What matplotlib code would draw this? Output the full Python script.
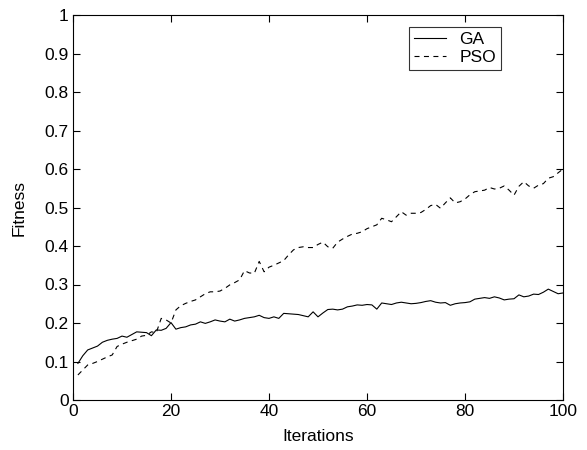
import matplotlib
matplotlib.use("Agg")
import matplotlib.pyplot as plt
from matplotlib.ticker import FuncFormatter

iterations = list(range(1, 101))
ga = [0.095, 0.115, 0.130, 0.135, 0.140, 0.150, 0.155, 0.158, 0.160, 0.166,
      0.163, 0.170, 0.177, 0.176, 0.175, 0.167, 0.182, 0.181, 0.186, 0.201,
      0.184, 0.188, 0.190, 0.195, 0.197, 0.203, 0.199, 0.203, 0.208, 0.205,
      0.203, 0.210, 0.205, 0.208, 0.212, 0.214, 0.216, 0.220, 0.214, 0.212,
      0.216, 0.212, 0.225, 0.224, 0.223, 0.222, 0.219, 0.216, 0.229, 0.216,
      0.226, 0.235, 0.236, 0.234, 0.236, 0.242, 0.244, 0.247, 0.246, 0.248,
      0.247, 0.236, 0.252, 0.250, 0.248, 0.252, 0.254, 0.252, 0.250, 0.251,
      0.253, 0.256, 0.258, 0.254, 0.252, 0.253, 0.246, 0.250, 0.252, 0.253,
      0.255, 0.262, 0.264, 0.266, 0.264, 0.268, 0.265, 0.260, 0.262, 0.263,
      0.273, 0.268, 0.270, 0.275, 0.274, 0.280, 0.288, 0.282, 0.276, 0.278]
pso = [0.065, 0.078, 0.091, 0.095, 0.100, 0.106, 0.112, 0.117, 0.139, 0.145,
       0.150, 0.154, 0.158, 0.166, 0.168, 0.177, 0.175, 0.212, 0.208, 0.200,
       0.234, 0.245, 0.251, 0.256, 0.260, 0.268, 0.276, 0.281, 0.281, 0.283,
       0.290, 0.299, 0.305, 0.312, 0.336, 0.330, 0.329, 0.360, 0.333, 0.345,
       0.350, 0.356, 0.362, 0.377, 0.390, 0.396, 0.398, 0.396, 0.396, 0.404,
       0.410, 0.398, 0.394, 0.410, 0.418, 0.425, 0.431, 0.433, 0.437, 0.445,
       0.450, 0.455, 0.472, 0.468, 0.463, 0.476, 0.489, 0.480, 0.485, 0.485,
       0.487, 0.495, 0.505, 0.508, 0.498, 0.512, 0.525, 0.512, 0.515, 0.522,
       0.533, 0.541, 0.543, 0.545, 0.552, 0.548, 0.550, 0.556, 0.545, 0.532,
       0.555, 0.567, 0.556, 0.550, 0.558, 0.562, 0.576, 0.580, 0.590, 0.600]
xticks = [0, 20, 40, 60, 80, 100]
yticks = [0, 0.1, 0.2, 0.3, 0.4, 0.5, 0.6, 0.7, 0.8, 0.9, 1]

FS = 12.5
plt.rcParams['font.family'] = ['Liberation Sans', 'DejaVu Sans']
fig = plt.figure(figsize=(5.87, 4.5), dpi=100)
ax = fig.add_axes([73/587, 50/450, 490/587, 385/450])
ax.plot(iterations, ga, color='black', linewidth=0.8, linestyle='-', label='GA')
ax.plot(iterations, pso, color='black', linewidth=0.8, linestyle=(0, (4.5, 4)), label='PSO')
ax.set_xlim(0, 100)
ax.set_ylim(0, 1)
ax.set_xticks(xticks)
ax.set_yticks(yticks)
ax.yaxis.set_major_formatter(FuncFormatter(lambda v, p: ('%g' % v)))
ax.tick_params(direction='in', length=5, width=0.8, labelsize=FS,
               top=True, right=True, pad=3)
for s in ax.spines.values():
    s.set_linewidth(0.8)
ax.set_xlabel('Iterations', fontsize=FS, labelpad=7)
ax.set_ylabel('Fitness', fontsize=FS, labelpad=13)
leg = ax.legend(loc='upper left', bbox_to_anchor=(0.686, 0.969), fontsize=FS,
                frameon=True, fancybox=False, edgecolor='black', borderpad=0.3,
                handlelength=1.8, handletextpad=0.8, labelspacing=0.15,
                borderaxespad=0)
leg.get_frame().set_linewidth(0.8)
fig.savefig('out.png', dpi=100)
